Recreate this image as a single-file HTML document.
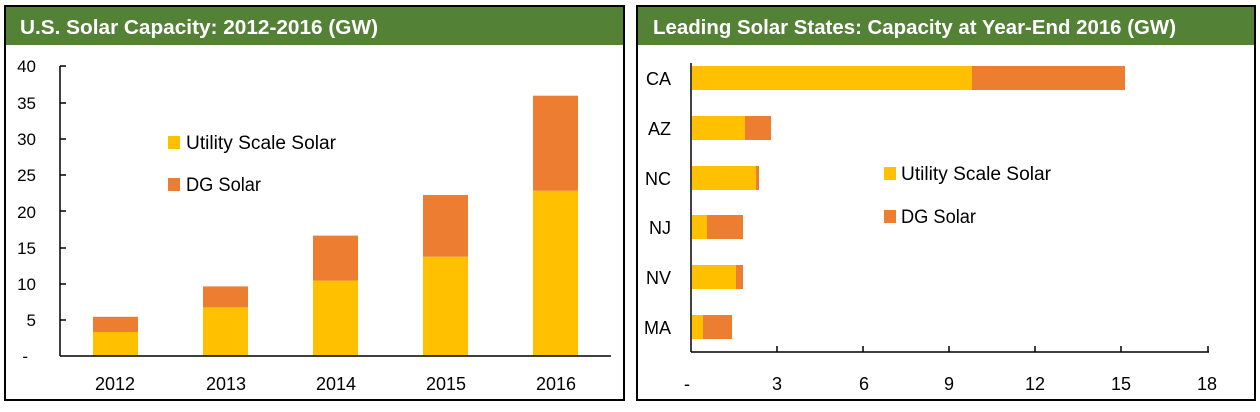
<!DOCTYPE html>
<html><head><meta charset="utf-8"><style>
body{margin:0;background:#fff}
svg text{font-family:"Liberation Sans",sans-serif}
</style></head><body>
<svg width="1260" height="407" viewBox="0 0 1260 407" xmlns="http://www.w3.org/2000/svg">
<rect width="1260" height="407" fill="#fff"/>
<!-- LEFT PANEL -->
<rect x="5" y="6" width="619" height="394" fill="#fff" stroke="#000" stroke-width="2"/>
<rect x="6" y="7" width="617" height="38" fill="#538135"/>
<text x="20" y="34" fill="#fff" font-size="20" font-weight="bold" textLength="358" lengthAdjust="spacingAndGlyphs">U.S. Solar Capacity: 2012-2016 (GW)</text>
<g font-size="17" fill="#000" text-anchor="end">
<text x="36" y="72">40</text><text x="36" y="109">35</text><text x="36" y="145">30</text>
<text x="36" y="181">25</text><text x="36" y="218">20</text><text x="36" y="254">15</text>
<text x="36" y="290">10</text><text x="36" y="326">5</text><text x="28" y="362">-</text>
</g>
<g fill="#ffc000">
<rect x="93" y="332" width="45" height="24"/>
<rect x="203" y="307.4" width="45" height="48.6"/>
<rect x="313" y="280.6" width="45" height="75.4"/>
<rect x="423" y="256.7" width="45" height="99.3"/>
<rect x="533" y="190.7" width="45" height="165.3"/>
</g>
<g fill="#ed7d31">
<rect x="93" y="316.8" width="45" height="15.2"/>
<rect x="203" y="286.4" width="45" height="21"/>
<rect x="313" y="235.6" width="45" height="45"/>
<rect x="423" y="195" width="45" height="61.7"/>
<rect x="533" y="95.7" width="45" height="95"/>
</g>
<g stroke="#000" stroke-width="1.5">
<line x1="60" y1="66" x2="60" y2="356"/>
<line x1="60" y1="356" x2="611" y2="356"/>
<line x1="60" y1="66" x2="66" y2="66"/><line x1="60" y1="103" x2="66" y2="103"/>
<line x1="60" y1="139" x2="66" y2="139"/><line x1="60" y1="175" x2="66" y2="175"/>
<line x1="60" y1="211" x2="66" y2="211"/><line x1="60" y1="248" x2="66" y2="248"/>
<line x1="60" y1="284" x2="66" y2="284"/><line x1="60" y1="320" x2="66" y2="320"/>
</g>
<g font-size="18" fill="#000" text-anchor="middle">
<text x="115" y="390">2012</text><text x="226" y="390">2013</text><text x="336" y="390">2014</text>
<text x="446" y="390">2015</text><text x="556" y="390">2016</text>
</g>
<rect x="168" y="136" width="12" height="13" fill="#ffc000"/>
<text x="186" y="149" font-size="19" textLength="150" lengthAdjust="spacingAndGlyphs">Utility Scale Solar</text>
<rect x="168" y="178" width="12" height="13" fill="#ed7d31"/>
<text x="186" y="191" font-size="19" textLength="75" lengthAdjust="spacingAndGlyphs">DG Solar</text>

<!-- RIGHT PANEL -->
<rect x="637" y="6" width="618" height="394" fill="#fff" stroke="#000" stroke-width="2"/>
<rect x="638" y="7" width="616" height="38" fill="#538135"/>
<text x="653" y="34" fill="#fff" font-size="20" font-weight="bold" textLength="523" lengthAdjust="spacingAndGlyphs">Leading Solar States: Capacity at Year-End 2016 (GW)</text>
<g fill="#ffc000">
<rect x="692" y="66" width="280" height="24"/>
<rect x="692" y="116" width="53" height="24"/>
<rect x="692" y="166" width="64" height="24"/>
<rect x="692" y="215" width="15" height="24"/>
<rect x="692" y="265" width="44" height="24"/>
<rect x="692" y="315" width="11" height="24"/>
</g>
<g fill="#ed7d31">
<rect x="972" y="66" width="153" height="24"/>
<rect x="745" y="116" width="26" height="24"/>
<rect x="756" y="166" width="3" height="24"/>
<rect x="707" y="215" width="36" height="24"/>
<rect x="736" y="265" width="7" height="24"/>
<rect x="703" y="315" width="29" height="24"/>
</g>
<g stroke="#000" stroke-width="1.5">
<line x1="691" y1="63" x2="691" y2="352"/>
<line x1="691" y1="352" x2="1209" y2="352"/>
<line x1="777" y1="346" x2="777" y2="352"/><line x1="863" y1="346" x2="863" y2="352"/>
<line x1="949" y1="346" x2="949" y2="352"/><line x1="1035" y1="346" x2="1035" y2="352"/>
<line x1="1121" y1="346" x2="1121" y2="352"/><line x1="1208" y1="346" x2="1208" y2="352"/>
</g>
<g font-size="18" fill="#000" text-anchor="end">
<text x="671" y="85">CA</text><text x="671" y="135">AZ</text><text x="671" y="185">NC</text>
<text x="671" y="234">NJ</text><text x="671" y="284">NV</text><text x="671" y="334">MA</text>
</g>
<g font-size="18" fill="#000" text-anchor="middle">
<text x="687" y="390">-</text><text x="777" y="390">3</text><text x="864" y="390">6</text>
<text x="949" y="390">9</text><text x="1035" y="390">12</text><text x="1121" y="390">15</text><text x="1207" y="390">18</text>
</g>
<rect x="884" y="167" width="12" height="13" fill="#ffc000"/>
<text x="901" y="180" font-size="19" textLength="150" lengthAdjust="spacingAndGlyphs">Utility Scale Solar</text>
<rect x="884" y="210" width="12" height="13" fill="#ed7d31"/>
<text x="901" y="223" font-size="19" textLength="75" lengthAdjust="spacingAndGlyphs">DG Solar</text>
</svg>
</body></html>
